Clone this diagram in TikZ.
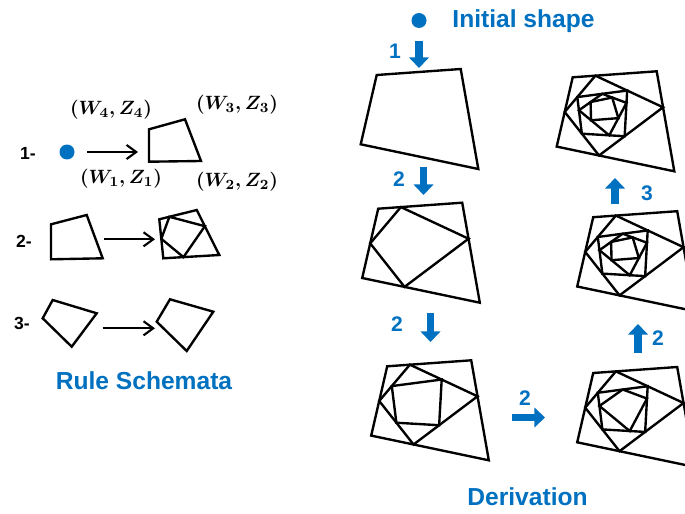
\documentclass[tikz,border=0pt]{standalone}
\usepackage{fontspec}
\setmainfont{Liberation Sans}
\usepackage{xcolor}
\usetikzlibrary{arrows.meta, calc}
\definecolor{shapeblue}{HTML}{0070C0}

% quadrilateral with #1 inscribed levels
\newcommand{\nestquad}[5]{%
  \coordinate (q1) at #2; \coordinate (q2) at #3;
  \coordinate (q3) at #4; \coordinate (q4) at #5;
  \draw[shp] (q1) -- (q2) -- (q3) -- (q4) -- cycle;
  \ifnum#1>0
  \foreach \k in {1,...,#1}{%
    \ifodd\k \def\fa{.27}\def\fb{.36}\def\fc{.64}\def\fd{.5}%
    \else \def\fa{.47}\def\fb{.6}\def\fc{.5}\def\fd{.41}\fi
    \coordinate (n1) at ($(q1)!\fa!(q2)$);
    \coordinate (n2) at ($(q2)!\fb!(q3)$);
    \coordinate (n3) at ($(q3)!\fc!(q4)$);
    \coordinate (n4) at ($(q4)!\fd!(q1)$);
    \foreach \i in {1,...,4}{\coordinate (q\i) at (n\i);}
    \draw[shp] (q1) -- (q2) -- (q3) -- (q4) -- cycle;
  }\fi}
\newcommand{\derivquad}[2]{%
  \begin{scope}[shift={#1}]
    \nestquad{#2}{(376.7,75)}{(460.7,69)}{(478.3,169)}{(360.7,144.3)}
  \end{scope}}

\begin{document}
\begin{tikzpicture}[x=0.02cm, y=-0.02cm,
    shp/.style={line width=1.35pt, line join=miter},
    headline/.style={font=\fontsize{14}{16}\selectfont\bfseries, text=shapeblue},
    steplabel/.style={font=\fontsize{12}{14}\selectfont\bfseries, text=shapeblue},
    rulelabel/.style={font=\fontsize{10}{12}\selectfont\bfseries},
    coordlabel/.style={font=\boldmath\fontsize{11}{13}\selectfont},
    seed/.style={circle, fill=shapeblue, inner sep=0pt, minimum size=0.3cm},
    thinarr/.style={-{Straight Barb[length=5.5pt,width=8pt]}, line width=1.2pt},
    blockarr/.style={-{Triangle[width=11pt,length=6pt]}, line width=4.5pt, draw=shapeblue}
  ]
  \useasboundingbox (0,0) rectangle (685,513);
  \clip (0,0) rectangle (685,513);

  % rule schemata
  \node[rulelabel] (r1) at (28,153) {1-};
  \node[rulelabel] (r2) at (24,241) {2-};
  \node[rulelabel] (r3) at (22,323) {3-};

  \node[seed] (r1seed) at (67,152) {};
  \coordinate (r1a) at (87,152);
  \coordinate (r1b) at (138,152);
  \draw[thinarr] (r1a) -- (r1b);
  \nestquad{0}{(149,129.3)}{(185,119.3)}{(201,161)}{(149,161.7)}
  \node[coordlabel] (w4) at (111,110) {$(W_4,Z_4)$};
  \node[coordlabel] (w3) at (237,105) {$(W_3,Z_3)$};
  \node[coordlabel] (w1) at (121,179) {$(W_1,Z_1)$};
  \node[coordlabel] (w2) at (237,182) {$(W_2,Z_2)$};

  \nestquad{0}{(51,224.3)}{(86.7,215)}{(102.7,258.3)}{(51,259.3)}
  \coordinate (r2a) at (104.3,239.3);
  \coordinate (r2b) at (155,239.3);
  \draw[thinarr] (r2a) -- (r2b);
  \nestquad{1}{(159.3,219.3)}{(196.7,210)}{(219.3,255)}{(163.3,258.3)}

  \nestquad{0}{(52.7,300)}{(96.7,313.3)}{(71.7,346.7)}{(42.7,318.3)}
  \coordinate (r3a) at (102.7,328.3);
  \coordinate (r3b) at (155,328.3);
  \draw[thinarr] (r3a) -- (r3b);
  \nestquad{0}{(170,299.3)}{(213.3,311.7)}{(186.7,351)}{(156.7,321.7)}

  \node[headline] (schemata) at (144,381) {Rule Schemata};

  % derivation
  \node[seed] (initseed) at (419,20.5) {};
  \node[headline] (initial) at (523.5,21) {Initial shape};

  \derivquad{(0,0)}{0}
  \derivquad{(1.5,133.7)}{1}
  \derivquad{(10.5,291.3)}{2}
  \derivquad{(216.5,298)}{3}
  \derivquad{(216.5,142.2)}{4}
  \derivquad{(196,2.3)}{4}

  \coordinate (d1a) at (419,41);   \coordinate (d1b) at (419,68);
  \coordinate (d2a) at (423.5,167); \coordinate (d2b) at (423.5,195);
  \coordinate (d3a) at (430.5,313); \coordinate (d3b) at (430.5,342);
  \coordinate (d4a) at (511.5,417.5); \coordinate (d4b) at (545,417.5);
  \coordinate (d5a) at (638,353);  \coordinate (d5b) at (638,324);
  \coordinate (d6a) at (615,203.5); \coordinate (d6b) at (615,178);
  \draw[blockarr] (d1a) -- (d1b);
  \draw[blockarr] (d2a) -- (d2b);
  \draw[blockarr] (d3a) -- (d3b);
  \draw[blockarr] (d4a) -- (d4b);
  \draw[blockarr] (d5a) -- (d5b);
  \draw[blockarr] (d6a) -- (d6b);

  \node[steplabel] (s1) at (395,51) {1};
  \node[steplabel] (s2) at (399,179) {2};
  \node[steplabel] (s3) at (397,324) {2};
  \node[steplabel] (s4) at (525,398) {2};
  \node[steplabel] (s5) at (658,338) {2};
  \node[steplabel] (s6) at (647,193) {3};

  \node[headline] (derivation) at (527.5,497) {Derivation};
\end{tikzpicture}
\end{document}
